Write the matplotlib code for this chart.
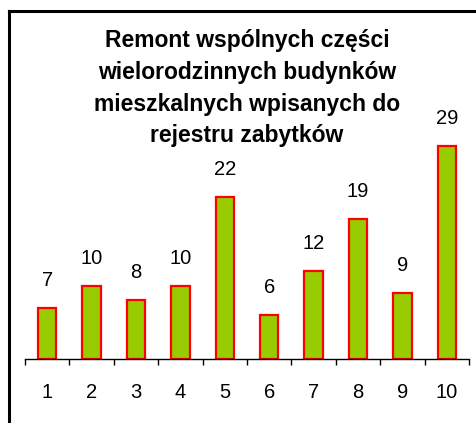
import matplotlib.pyplot as plt
from matplotlib.lines import Line2D

categories = ["1", "2", "3", "4", "5", "6", "7", "8", "9", "10"]
values = [7, 10, 8, 10, 22, 6, 12, 19, 9, 29]
title_lines = ["Remont wspólnych części", "wielorodzinnych budynków",
               "mieszkalnych wpisanych do", "rejestru zabytków"]

plt.rcParams["font.family"] = ["Liberation Sans", "DejaVu Sans"]

W, H = 477, 423
fig = plt.figure(figsize=(W / 100, H / 100), dpi=100)
ax = fig.add_axes([25 / W, 1 - 359 / H, 444 / W, 257 / H])

xs = list(range(1, len(values) + 1))
ax.bar(xs, values, width=0.41, color="#99CC00", edgecolor="#FF0000", linewidth=1.6)

for x, v in zip(xs, values):
    ax.annotate(str(v), (x, v), xytext=(0, 13), textcoords="offset points",
                ha="center", va="bottom", fontsize=14.5)

ax.set_xlim(0.5, len(values) + 0.5)
ax.set_ylim(0, 35)
ax.set_yticks([])
ax.set_xticks([x + 0.5 for x in range(0, len(values) + 1)])
ax.set_xticklabels([])
ax.set_xticks(xs, minor=True)
ax.set_xticklabels(categories, minor=True, fontsize=14.5)
ax.tick_params(axis="x", which="major", length=4, width=1, direction="out")
ax.tick_params(axis="x", which="minor", length=0, pad=17)
for side in ["top", "right", "left"]:
    ax.spines[side].set_visible(False)
ax.spines["bottom"].set_linewidth(1)

# title, one line per baseline
for i, line in enumerate(title_lines):
    y = [47, 79, 111, 142][i]
    fig.text(247 / W, 1 - y / H, line, ha="center", va="baseline",
             fontsize=16.5, fontweight="bold")

# chart frame (only top and left edges fall inside the image)
fig.add_artist(Line2D([9 / W, 1], [1 - 11 / H, 1 - 11 / H], color="black", lw=2.2))
fig.add_artist(Line2D([9 / W, 9 / W], [0, 1 - 11 / H], color="black", lw=2.2))

fig.savefig("out.png", dpi=100)
